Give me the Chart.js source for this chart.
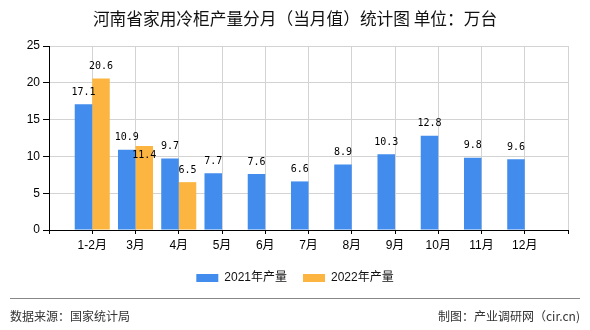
<!DOCTYPE html>
<html><head><meta charset="utf-8">
<style>html,body{margin:0;padding:0;background:#fff;}#wrap{width:590px;height:330px;position:relative;}</style>
<script src="https://cdn.jsdelivr.net/npm/chart.js@4/dist/chart.umd.min.js"></script>
</head><body>
<div id="wrap"><canvas id="c" width="590" height="330"></canvas></div>
<script>
const categories = ['', '1-2月', '3月', '4月', '5月', '6月', '7月', '8月', '9月', '10月', '11月', '12月', ''];
const series2021 = [null, 17.1, 10.9, 9.7, 7.7, 7.6, 6.6, 8.9, 10.3, 12.8, 9.8, 9.6, null];
const series2022 = [null, 20.6, 11.4, 6.5, null, null, null, null, null, null, null, null, null];
const seriesNames = ['2021年产量', '2022年产量'];
const yTicks = [0, 5, 10, 15, 20, 25];
const titleText = '河南省家用冷柜产量分月（当月值）统计图 单位：万台';
const sourceText = '数据来源：国家统计局';
const makerText = '制图：产业调研网（cir.cn)';

const FONT = '"Liberation Sans", "Noto Sans CJK SC", sans-serif';
Chart.defaults.font.family = FONT;
Chart.defaults.color = '#000';

const labelPlugin = {
  id: 'valueLabels',
  afterDatasetsDraw(chart) {
    const ctx = chart.ctx;
    ctx.save();
    ctx.font = '10px "DejaVu Sans Mono", monospace';
    ctx.fillStyle = '#000';
    ctx.textAlign = 'center';
    ctx.textBaseline = 'middle';
    const boxes = [];
    const n = chart.data.labels.length;
    for (let i = 0; i < n; i++) {
      chart.data.datasets.forEach((ds, di) => {
        const v = ds.data[i];
        if (v === null || v === undefined) return;
        const el = chart.getDatasetMeta(di).data[i];
        const txt = v.toFixed(1);
        const w = ctx.measureText(txt).width;
        let y = el.y - 12;
        const overl = boxes.some(b => Math.abs(b.x - el.x) < (b.w + w) / 2 && Math.abs(b.y - y) < 11);
        if (overl) y = el.y + 9;
        boxes.push({x: el.x, y: y, w: w});
        ctx.fillText(txt, el.x, y);
      });
    }
    ctx.restore();
  }
};

const legendShift = {
  id: 'legendShift',
  afterLayout(chart) {
    if (chart.legend) { chart.legend.left += 11; chart.legend.right += 11; }
  }
};

const framePlugin = {
  id: 'frame',
  afterDraw(chart) {
    const ctx = chart.ctx;
    ctx.save();
    ctx.fillStyle = '#111';
    ctx.textAlign = 'center';
    ctx.textBaseline = 'middle';
    ctx.font = '16.7px "Noto Sans CJK SC", sans-serif';
    ctx.fillText(titleText, 295, 18.5);
    ctx.strokeStyle = '#888';
    ctx.lineWidth = 1;
    ctx.beginPath();
    ctx.moveTo(10, 298.5);
    ctx.lineTo(580, 298.5);
    ctx.stroke();
    ctx.font = '12px "Noto Sans CJK SC", sans-serif';
    ctx.fillStyle = '#333';
    ctx.textAlign = 'left';
    ctx.fillText(sourceText, 10, 316);
    ctx.textAlign = 'right';
    ctx.fillText(makerText, 580, 316);
    ctx.restore();
  }
};

new Chart(document.getElementById('c'), {
  type: 'bar',
  data: {
    labels: categories,
    datasets: [
      {label: seriesNames[0], data: series2021, backgroundColor: '#418CEC', borderWidth: 0},
      {label: seriesNames[1], data: series2022, backgroundColor: '#FBB540', borderWidth: 0}
    ]
  },
  options: {
    responsive: false,
    animation: false,
    devicePixelRatio: 1,
    layout: {padding: {top: 46, right: 22, bottom: 36, left: 0}},
    datasets: {bar: {categoryPercentage: 0.81, barPercentage: 1}},
    plugins: {
      title: {display: false},
      tooltip: {enabled: false},
      legend: {
        display: true,
        position: 'bottom',
        labels: {boxWidth: 22, boxHeight: 8, padding: 16, font: {size: 12, family: FONT}, color: '#111'}
      }
    },
    scales: {
      x: {
        offset: false,
        grid: {offset: false, color: '#d3d3d3', tickColor: '#000', tickLength: 4, drawTicks: true},
        border: {color: '#000', width: 1},
        ticks: {autoSkip: false, maxRotation: 0, padding: 4, font: {size: 12}, color: '#000'},
        afterFit(s) { s.height = 26; }
      },
      y: {
        min: 0, max: 25,
        afterBuildTicks(s) { s.ticks = yTicks.map(v => ({value: v})); },
        grid: {color: '#d3d3d3', tickColor: '#000', tickLength: 6},
        border: {color: '#000', width: 1},
        ticks: {padding: 3, font: {size: 12}, color: '#000'},
        afterFit(s) { s.width = 49; }
      }
    }
  },
  plugins: [labelPlugin, legendShift, framePlugin]
});
</script>
</body></html>
